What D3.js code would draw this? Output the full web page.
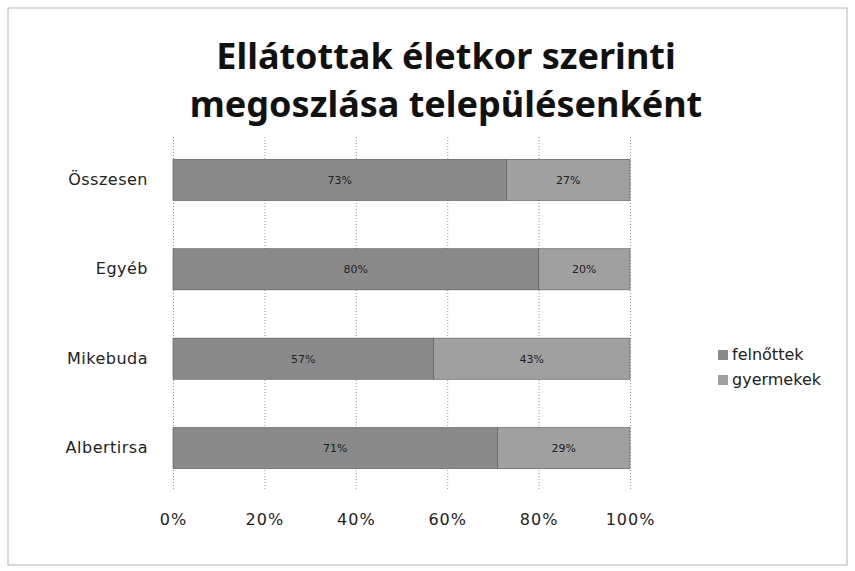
<!DOCTYPE html>
<html>
<head>
<meta charset="utf-8">
<script src="https://cdn.jsdelivr.net/npm/d3@7"></script>
<style>
	body { margin:0; background:#fff; }
	svg { display:block; font-family:'DejaVu Sans', 'Noto Sans', sans-serif; }
	.grid line { stroke:#9a9a9a; stroke-dasharray:1,2; }
	.grid path { display:none; }
	.x_axis path, .x_axis line { display:none; }
	.x_axis text { font-family:'DejaVu Sans', sans-serif; font-size:16px; fill:#222; letter-spacing:1px; }
	.cat { font-size:16px; fill:#222; letter-spacing:0.5px; }
	.lbl { font-size:11px; fill:#222; }
	.legend text { font-size:16px; fill:#222; }
	.title { font-family:'Noto Sans', sans-serif; }
</style>
</head>
<body>
<div id="chart"></div>
<script>
// 100% stacked bars
var categories = ['Összesen', 'Egyéb', 'Mikebuda', 'Albertirsa']
var felnottek = [73, 80, 57, 71]
var gyermekek = [27, 20, 43, 29]
var seriesNames = ['felnőttek', 'gyermekek']
var tickValues = [0, 20, 40, 60, 80, 100]

var seriesColors = ['#8a8a8a', '#a0a0a0']

var init = function(domelement) {
	var width = 855, height = 571
	var margin = {'top':137, 'bottom':80, 'left':173, 'right':225}

	var svg = d3.select(domelement).append('svg')
		.attr('width', width)
		.attr('height', height)

	// scanned page frame
	svg.append('rect')
		.attr('x', 8).attr('y', 8)
		.attr('width', width - 16).attr('height', height - 14)
		.attr('fill', 'none')
		.attr('stroke', '#b5b5b5')
		.attr('stroke-width', 1)

	var title = svg.append('text')
		.attr('class', 'title')
		.attr('text-anchor', 'middle')
		.attr('font-weight', 'bold')
		.attr('font-size', 36)
		.attr('fill', '#111')
	title.append('tspan').attr('x', 446).attr('y', 69).text('Ellátottak életkor szerinti')
	title.append('tspan').attr('x', 446).attr('y', 117).text('megoszlása településenként')

	var w = width - margin.left - margin.right
	var h = height - margin.top - margin.bottom

	var x = d3.scaleLinear().domain([0, 100]).range([0, w])
	var y = d3.scaleBand().domain(categories).range([0, h]).paddingInner(0.54).paddingOuter(0.25)

	var g = svg.append('g').attr('transform', 'translate(' + margin.left + ',' + margin.top + ')')

	g.append('g').attr('class', 'grid')
		.call(d3.axisBottom(x).tickValues(tickValues).tickSize(h).tickFormat(''))

	g.append('g').attr('class', 'x_axis')
		.attr('transform', 'translate(0,' + (h + 20) + ')')
		.call(d3.axisBottom(x).tickValues(tickValues).tickSize(0).tickFormat(function(d) {
			return d + '%'
		}))

	var stacked = d3.stack().keys([0, 1])(categories.map(function(c, i) {
		return [felnottek[i], gyermekek[i]]
	}))

	var layers = g.selectAll('.layer')
		.data(stacked)
		.enter().append('g')
		.attr('class', 'layer')
		.attr('fill', function(d, i) { return seriesColors[i] })

	layers.selectAll('rect')
		.data(function(d) { return d })
		.enter().append('rect')
		.attr('x', function(d) { return x(d[0]) })
		.attr('y', function(d, i) { return y(categories[i]) })
		.attr('width', function(d) { return x(d[1]) - x(d[0]) })
		.attr('height', y.bandwidth())
		.attr('stroke', '#555')
		.attr('stroke-width', 0.6)

	layers.selectAll('.lbl')
		.data(function(d) { return d })
		.enter().append('text')
		.attr('class', 'lbl')
		.attr('text-anchor', 'middle')
		.attr('x', function(d) { return x((d[0] + d[1]) / 2) })
		.attr('y', function(d, i) { return y(categories[i]) + y.bandwidth() / 2 + 4 })
		.text(function(d) { return (d[1] - d[0]) + '%' })

	g.selectAll('.cat')
		.data(categories)
		.enter().append('text')
		.attr('class', 'cat')
		.attr('text-anchor', 'end')
		.attr('x', -25)
		.attr('y', function(d) { return y(d) + y.bandwidth() / 2 + 5 })
		.text(function(d) { return d })

	var legend = svg.append('g').attr('class', 'legend')
		.attr('transform', 'translate(718,360)')
	var items = legend.selectAll('g')
		.data(seriesNames)
		.enter().append('g')
		.attr('transform', function(d, i) { return 'translate(0,' + (i * 25) + ')' })
	items.append('rect')
		.attr('width', 10).attr('height', 10)
		.attr('y', -10)
		.attr('fill', function(d, i) { return seriesColors[i] })
	items.append('text')
		.attr('x', 14)
		.text(function(d) { return d })
}

init('#chart')
</script>
</body>
</html>
